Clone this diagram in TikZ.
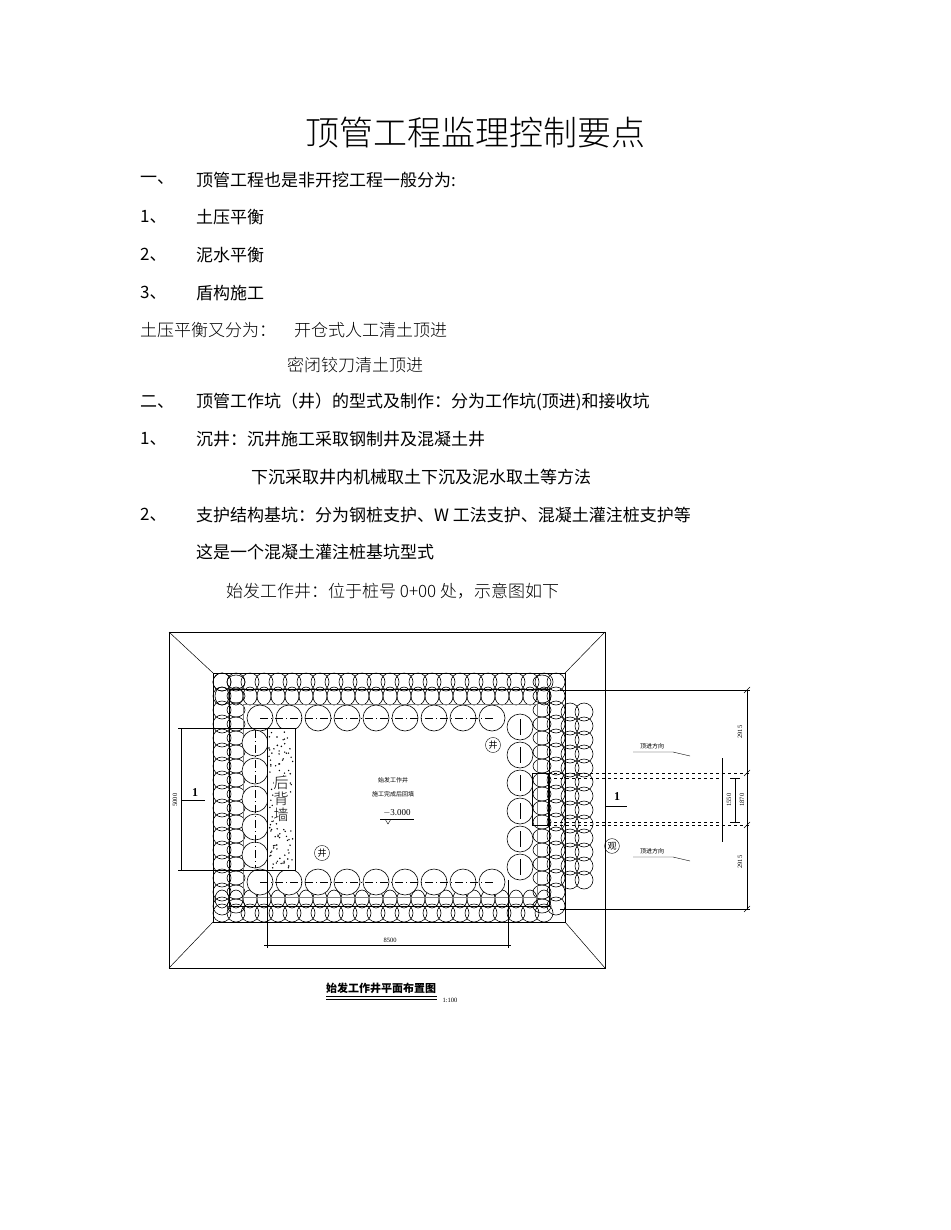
\documentclass[tikz,border=0pt]{standalone}
\usepackage{fontspec}
\setmainfont{Liberation Serif}
\newfontfamily\cjk{Noto Sans CJK SC}
\newfontfamily\cjkl{Noto Sans CJK SC Light}
\begin{document}
\begin{tikzpicture}[x=1pt,y=-1pt,
  body/.style={anchor=west,inner sep=0pt,font=\cjk\fontsize{17}{18}\selectfont},
  bodyl/.style={anchor=west,inner sep=0pt,font=\cjkl\fontsize{17}{18}\selectfont},
  tiny/.style={inner sep=0pt,font=\cjk\fontsize{6}{6}\selectfont},
  pile/.style={line width=0.6pt},
  dim/.style={line width=0.6pt}]
\useasboundingbox[fill=white] (0,0) rectangle (950,1230);
\node[inner sep=0pt,font=\cjkl\fontsize{34}{36}\selectfont] (title) at (475,133) {顶管工程监理控制要点};
\node[body] (n1) at (140,180) {一、}; \node[body] (t1) at (196,180) {顶管工程也是非开挖工程一般分为:};
\node[body] (n2) at (140,217) {1、}; \node[body] (t2) at (196,217) {土压平衡};
\node[body] (n3) at (140,255) {2、}; \node[body] (t3) at (196,255) {泥水平衡};
\node[body] (n4) at (140,293) {3、}; \node[body] (t4) at (196,293) {盾构施工};
\node[bodyl] (t5) at (140,330) {土压平衡又分为：}; \node[bodyl] (t6) at (294,330) {开仓式人工清土顶进};
\node[bodyl] (t7) at (287,365) {密闭铰刀清土顶进};
\node[body] (n8) at (140,402) {二、}; \node[body] (t8) at (196,402) {顶管工作坑（井）的型式及制作：分为工作坑(顶进)和接收坑};
\node[body] (n9) at (140,439) {1、}; \node[body] (t9) at (196,439) {沉井：沉井施工采取钢制井及混凝土井};
\node[body] (t10) at (251,477) {下沉采取井内机械取土下沉及泥水取土等方法};
\node[body] (n11) at (140,515) {2、}; \node[body] (t11) at (196,515) {支护结构基坑：分为钢桩支护、W 工法支护、混凝土灌注桩支护等};
\node[body] (t12) at (196,552) {这是一个混凝土灌注桩基坑型式};
\node[bodyl] (t13) at (226,591) {始发工作井：位于桩号 0+00 处，示意图如下};
% outer slope
\draw[line width=1pt] (169,632) rectangle (605,968);
\draw[line width=0.5pt] (169,632)--(213,673) (605,632)--(565,673) (169,968)--(213,922) (605,968)--(565,922);
% ring piles
\foreach \x in {222,236,...,556}{\draw[pile] (\x,682) circle (9); \draw[pile] (\x,913) circle (9);
  \draw[pile] (\x,696) ellipse (7 and 9); \draw[pile] (\x,899) ellipse (7 and 9);}
\foreach \y in {682,696,...,913}{\draw[pile] (222,\y) circle (9); \draw[pile] (556,\y) circle (9);
  \draw[pile] (236,\y) ellipse (9 and 7); \draw[pile] (542,\y) ellipse (9 and 7);}
\foreach \x in {570,584}{\foreach \y in {712,726,...,880}{\draw[pile] (\x,\y) circle (9);}}
\draw[line width=1pt] (213,673) rectangle (565,922);
\draw[line width=0.8pt] (229,689) rectangle (549,906);
\draw[line width=0.8pt,gray] (243,704) rectangle (537,897);
% inner piles
\foreach \x in {260,289,...,494}{\draw[pile,fill=white] (\x,718) circle (13); \draw[pile,fill=white] (\x,882) circle (13);}
\draw[dash pattern=on 8pt off 3pt on 1pt off 3pt] (260,718)--(494,718) (260,882)--(494,882);
\foreach \y in {743,771,...,855}{\draw[pile,fill=white] (255,\y) circle (13);}
\draw[dash pattern=on 8pt off 3pt on 1pt off 3pt] (255,730)--(255,868);
\foreach \y in {727,755,...,868}{\draw[pile,fill=white] (520,\y) circle (13); \draw (520,\y-8)--(520,\y+8);}
% back wall
\draw[line width=0.8pt,fill=white] (267,728) rectangle (295,870);
\pgfmathsetseed{7}
\foreach \i in {1,...,110}{\pgfmathsetmacro\px{269+24*rnd}\pgfmathsetmacro\py{730+138*rnd}\fill (\px,\py) circle (0.8);}
\node[inner sep=0pt,font=\cjkl\fontsize{15}{16}\selectfont,align=center,fill=white] (wall) at (281,799) {后\\背\\墙};
% centre labels
\node[tiny] (c1) at (393,780) {始发工作井};
\node[tiny] (c2) at (393,794) {施工完成后回填};
\node[inner sep=0pt,font=\fontsize{9}{9}\selectfont] (c3) at (397,813) {$-$3.000};
\draw (380,819)--(414,819); \draw (385,819)--(388,824)--(391,819);
\node[circle,draw,inner sep=1pt,font=\cjk\fontsize{9}{9}\selectfont] (j1) at (493,745) {井};
\node[circle,draw,inner sep=1pt,font=\cjk\fontsize{9}{9}\selectfont] (j2) at (322,853) {井};
% pipes
\draw[line width=0.9pt] (532,773) rectangle (548,825);
\draw[dashed,line width=0.9pt] (548,773)--(750,773) (548,778)--(722,778) (548,822)--(722,822) (548,825)--(750,825);
\draw[dim] (560,690)--(750,690) (560,909)--(750,909) (747,690)--(747,909);
\foreach \y in {690,773,825,909}{\draw[dim] (744,\y+3)--(750,\y-3);}
\draw[dim] (722,758)--(722,842) (735,778)--(735,822) (730,778)--(740,778) (730,822)--(740,822);
\node[rotate=90,inner sep=0pt,font=\fontsize{6.5}{7}\selectfont] (d1) at (740,732) {2915};
\node[rotate=90,inner sep=0pt,font=\fontsize{6.5}{7}\selectfont] (d2) at (740,862) {2915};
\node[rotate=90,inner sep=0pt,font=\fontsize{6.5}{7}\selectfont] (d3) at (742,800) {1870};
\node[rotate=90,inner sep=0pt,font=\fontsize{6.5}{7}\selectfont] (d4) at (729,800) {1550};
\node[tiny] (a1) at (652,746) {顶进方向}; \draw (633,752)--(673,752)--(690,756);
\node[tiny] (a2) at (652,851) {顶进方向}; \draw (633,857)--(673,857)--(690,861);
\node[inner sep=0pt,font=\bfseries\fontsize{12}{12}\selectfont] (s1) at (617,797) {1};
\draw (605,806)--(627,806);
\node[circle,draw,inner sep=1pt,font=\cjk\fontsize{9}{9}\selectfont] (g1) at (612,846) {观};
% left dimension
\draw[dim] (178,728)--(290,728) (178,870)--(290,870) (181,728)--(181,870) (181,800)--(205,800);
\node[rotate=90,inner sep=0pt,font=\fontsize{6.5}{7}\selectfont] (d5) at (175,800) {5000};
\node[inner sep=0pt,font=\bfseries\fontsize{12}{12}\selectfont] (s2) at (195,793) {1};
% bottom dimension
\draw[dim] (267,870)--(267,948) (508,880)--(508,948) (264,945)--(511,945);
\node[inner sep=0pt,font=\fontsize{6.5}{7}\selectfont] (d6) at (390,940) {8500};
% caption
\node[inner sep=0pt,font=\cjk\bfseries\fontsize{11}{12}\selectfont] (cap) at (381,988) {始发工作井平面布置图};
\draw[line width=0.9pt] (326,996)--(437,996); \draw[line width=0.5pt] (326,999.5)--(437,999.5);
\node[inner sep=0pt,font=\fontsize{6.5}{7}\selectfont] (sc) at (450,1000) {1:100};
\end{tikzpicture}
\end{document}
